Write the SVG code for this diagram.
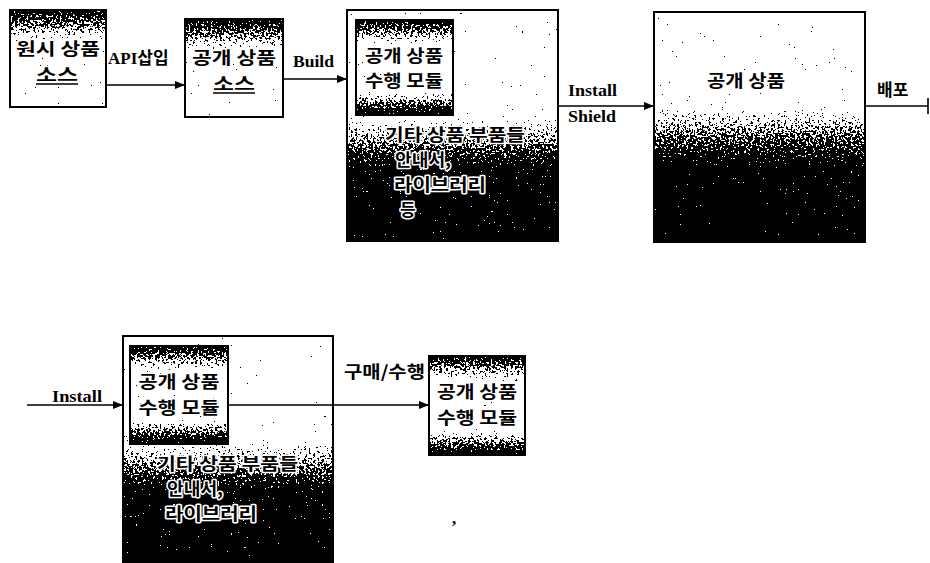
<svg xmlns="http://www.w3.org/2000/svg" width="930" height="563" viewBox="0 0 930 563">
<defs>
<filter id="spk" x="0" y="0" width="1" height="1" color-interpolation-filters="sRGB">
<feTurbulence type="fractalNoise" baseFrequency="0.45" numOctaves="2" seed="3" result="n"/>
<feColorMatrix in="n" type="matrix" values="0 0 0 0 0  0 0 0 0 0  0 0 0 0 0  1.6 0 0 0 -0.3" result="na"/>
<feComposite in="SourceGraphic" in2="na" operator="arithmetic" k1="0" k2="1" k3="-1" k4="0.5" result="c"/>
<feColorMatrix in="c" type="matrix" values="0 0 0 0 0  0 0 0 0 0  0 0 0 0 0  0 0 0 1 0" result="d"/>
<feComponentTransfer in="d"><feFuncA type="discrete" tableValues="0 1"/></feComponentTransfer>
</filter>
<linearGradient id="gTop" x1="0" y1="0" x2="0" y2="1">
<stop offset="0" stop-opacity="0.85"/><stop offset="0.18" stop-opacity="0.45"/><stop offset="0.32" stop-opacity="0.05"/><stop offset="0.4" stop-opacity="0"/><stop offset="1" stop-opacity="0"/>
</linearGradient>
<linearGradient id="gTB" x1="0" y1="0" x2="0" y2="1">
<stop offset="0" stop-opacity="0.85"/><stop offset="0.15" stop-opacity="0.4"/><stop offset="0.27" stop-opacity="0"/><stop offset="0.75" stop-opacity="0"/><stop offset="0.86" stop-opacity="0.5"/><stop offset="1" stop-opacity="0.95"/>
</linearGradient>
<linearGradient id="gBig" x1="0" y1="0" x2="0" y2="1">
<stop offset="0" stop-opacity="0"/><stop offset="0.45" stop-opacity="0"/><stop offset="0.56" stop-opacity="0.45"/><stop offset="0.68" stop-opacity="0.9"/><stop offset="1" stop-opacity="1"/>
</linearGradient>
<linearGradient id="gBig4" x1="0" y1="0" x2="0" y2="1">
<stop offset="0" stop-opacity="0"/><stop offset="0.4" stop-opacity="0"/><stop offset="0.52" stop-opacity="0.5"/><stop offset="0.68" stop-opacity="0.95"/><stop offset="1" stop-opacity="1"/>
</linearGradient>
<marker id="ah" viewBox="0 0 10 10" refX="10" refY="5" markerWidth="10" markerHeight="10" markerUnits="userSpaceOnUse" orient="auto">
<path d="M0,1 L10,5 L0,9 Z" fill="#000"/>
</marker>
<style>
.bx{fill:none;stroke:#000;stroke-width:2}
.nz{filter:url(#spk)}
.k{font-family:"Noto Sans CJK KR","Noto Sans",sans-serif;font-weight:700;font-size:17px;fill:#000}
.h{stroke:#fff;stroke-width:3;paint-order:stroke;stroke-linejoin:round}
.e{font-family:"Liberation Serif","Times New Roman",serif;font-weight:700;font-size:17px;fill:#000}
.c{text-anchor:middle}
.ln{stroke:#000;stroke-width:1.6;fill:none}
.ul{stroke:#000;stroke-width:1.5}
</style>
</defs>
<rect width="930" height="563" fill="#fff"/>

<g id="n1">
<rect class="nz" x="10" y="10" width="96" height="97" fill="url(#gTop)"/>
<rect class="bx" x="10" y="10" width="96" height="97"/>
<text class="k h c" x="58" y="55" textLength="84" lengthAdjust="spacingAndGlyphs">원시 상품</text>
<text class="k h c" x="57" y="81" textLength="42" lengthAdjust="spacingAndGlyphs">소스</text>
<line class="ul" x1="36" y1="84" x2="78" y2="84"/>
</g>

<g id="n2">
<rect class="nz" x="185" y="19" width="98" height="98" fill="url(#gTop)"/>
<rect class="bx" x="185" y="19" width="98" height="98"/>
<text class="k h c" x="234" y="64" textLength="84" lengthAdjust="spacingAndGlyphs">공개 상품</text>
<text class="k h c" x="234" y="90" textLength="42" lengthAdjust="spacingAndGlyphs">소스</text>
<line class="ul" x1="213" y1="93" x2="255" y2="93"/>
</g>

<g id="n3">
<rect class="nz" x="347" y="10" width="211" height="231" fill="url(#gBig)"/>
<rect class="bx" x="347" y="10" width="211" height="231"/>
<text class="k h" x="385" y="141" textLength="140" lengthAdjust="spacingAndGlyphs">기타 상품 부품들</text>
<text class="k h" x="395" y="166" textLength="56" lengthAdjust="spacingAndGlyphs">안내서,</text>
<text class="k h" x="394" y="191" textLength="92" lengthAdjust="spacingAndGlyphs">라이브러리</text>
<text class="k h" x="400" y="216">등</text>
</g>
<g id="n3a">
<rect x="356" y="20" width="97" height="95" fill="#fff"/>
<rect class="nz" x="356" y="20" width="97" height="95" fill="url(#gTB)"/>
<rect class="bx" x="356" y="20" width="97" height="95"/>
<text class="k h c" x="404" y="62" textLength="78" lengthAdjust="spacingAndGlyphs">공개 상품</text>
<text class="k h c" x="404" y="87" textLength="78" lengthAdjust="spacingAndGlyphs">수행 모듈</text>
</g>

<g id="n4">
<rect class="nz" x="654" y="12" width="211" height="230" fill="url(#gBig4)"/>
<rect class="bx" x="654" y="12" width="211" height="230"/>
<text class="k h c" x="746" y="87" textLength="78" lengthAdjust="spacingAndGlyphs">공개 상품</text>
</g>

<g id="n5">
<rect class="nz" x="123" y="336" width="210" height="226" fill="url(#gBig)"/>
<rect class="bx" x="123" y="336" width="210" height="226"/>
<text class="k h" x="157" y="470" textLength="141" lengthAdjust="spacingAndGlyphs">기타 상품 부품들</text>
<text class="k h" x="167" y="495" textLength="56" lengthAdjust="spacingAndGlyphs">안내서,</text>
<text class="k h" x="165" y="520" textLength="92" lengthAdjust="spacingAndGlyphs">라이브러리</text>
</g>
<g id="n5a">
<rect x="130" y="346" width="98" height="98" fill="#fff"/>
<rect class="nz" x="130" y="346" width="98" height="98" fill="url(#gTB)"/>
<rect class="bx" x="130" y="346" width="98" height="98"/>
<text class="k h c" x="179" y="388" textLength="81" lengthAdjust="spacingAndGlyphs">공개 상품</text>
<text class="k h c" x="179" y="414" textLength="81" lengthAdjust="spacingAndGlyphs">수행 모듈</text>
</g>

<g id="n6">
<rect class="nz" x="429" y="356" width="96" height="99" fill="url(#gTB)"/>
<rect class="bx" x="429" y="356" width="96" height="99"/>
<text class="k h c" x="477" y="398" textLength="80" lengthAdjust="spacingAndGlyphs">공개 상품</text>
<text class="k h c" x="477" y="424" textLength="80" lengthAdjust="spacingAndGlyphs">수행 모듈</text>
</g>

<g id="connectors">
<line class="ln" x1="106" y1="85" x2="185" y2="85" marker-end="url(#ah)"/>
<text x="108" y="64"><tspan class="e">API</tspan><tspan class="k">삽입</tspan></text>
<line class="ln" x1="283" y1="79" x2="347" y2="79" marker-end="url(#ah)"/>
<text class="e" x="293" y="67" textLength="41" lengthAdjust="spacingAndGlyphs">Build</text>
<line class="ln" x1="558" y1="106" x2="654" y2="106" marker-end="url(#ah)"/>
<text class="e" x="568" y="96" textLength="49" lengthAdjust="spacingAndGlyphs">Install</text>
<text class="e" x="568" y="122" textLength="48" lengthAdjust="spacingAndGlyphs">Shield</text>
<line class="ln" x1="865" y1="106" x2="928" y2="106"/>
<line class="ln" x1="928" y1="98" x2="928" y2="114" stroke-width="2"/>
<text class="k" x="877" y="96" font-size="18">배포</text>
<line class="ln" x1="27" y1="405" x2="123" y2="405" marker-end="url(#ah)"/>
<text class="e" x="52" y="402" textLength="50" lengthAdjust="spacingAndGlyphs">Install</text>
<line class="ln" x1="228" y1="405" x2="429" y2="405" marker-end="url(#ah)"/>
<text class="k" x="344" y="378" textLength="81" lengthAdjust="spacingAndGlyphs">구매/수행</text>
</g>
<text class="e" x="452" y="524" font-size="20">,</text>
</svg>
